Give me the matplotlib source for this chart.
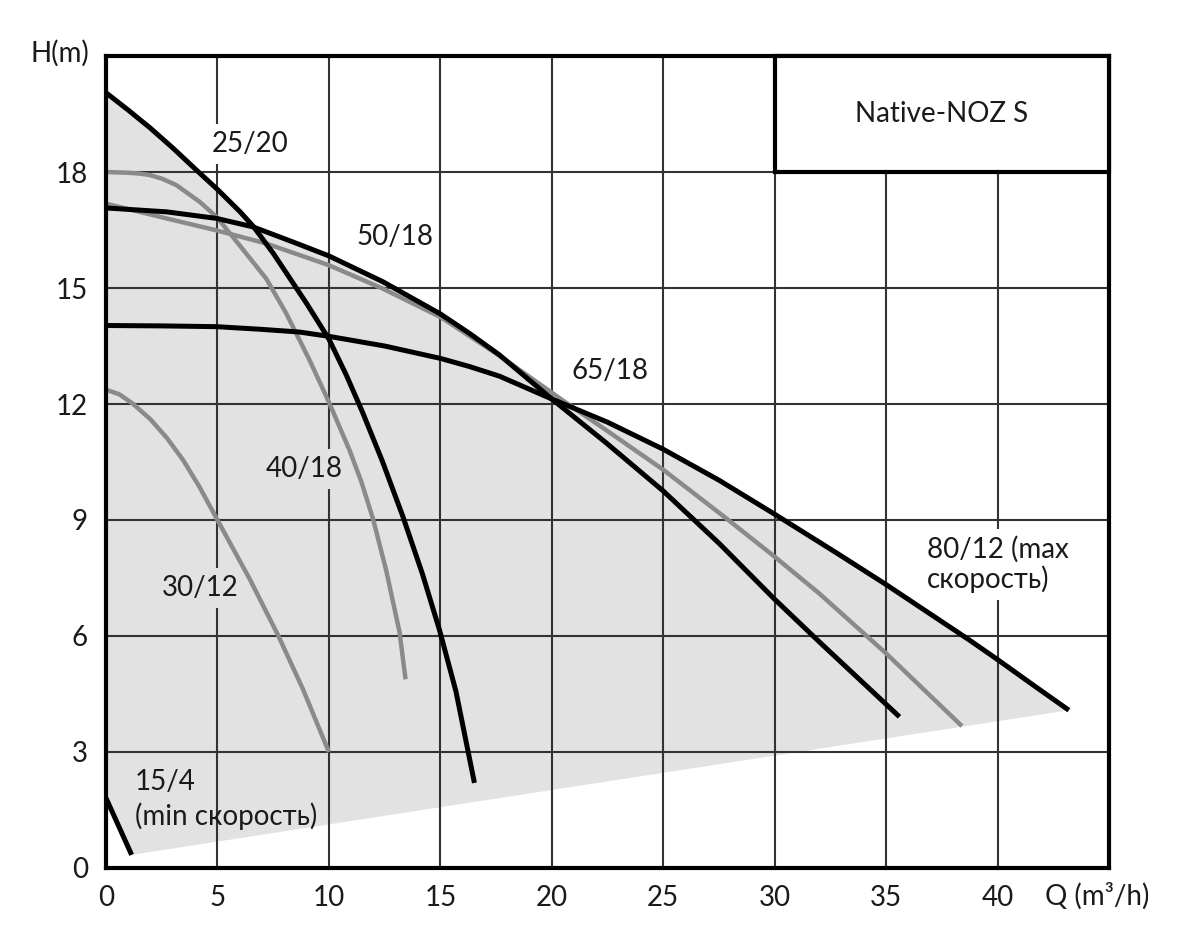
import numpy as np
import matplotlib
matplotlib.use("Agg")
import matplotlib.pyplot as plt
from matplotlib.patches import Rectangle

plt.rcParams['font.family'] = ['Lato', 'DejaVu Sans']

# pump curves, Q (m3/h) vs H (m)
q_25_20 = [0, 1, 2, 3, 4.15, 5, 6, 6.6, 7.5, 8.1, 9, 10, 10.78, 11.5, 12.4, 13.32, 14.2, 14.96, 15.7, 16.53]
h_25_20 = [20.05, 19.6, 19.13, 18.62, 18.0, 17.55, 16.98, 16.6, 15.9, 15.38, 14.6, 13.68, 12.75, 11.8, 10.52, 9.09, 7.6, 6.16, 4.57, 2.2]

q_40_18 = [0, 1, 1.5, 1.97, 2.5, 3.16, 4.2, 4.96, 6.0, 7.19, 8.08, 9.12, 10.0, 10.93, 11.45, 11.97, 12.57, 13.17, 13.44]
h_40_18 = [18.0, 17.98, 17.96, 17.92, 17.83, 17.66, 17.23, 16.84, 16.1, 15.24, 14.35, 13.15, 12.05, 10.8, 10.0, 9.05, 7.7, 6.1, 4.88]

q_30_12 = [0, 0.6, 1.22, 2.0, 2.72, 3.46, 4.2, 5.0, 6.45, 7.72, 8.84, 10.0]
h_30_12 = [12.37, 12.25, 12.0, 11.6, 11.13, 10.55, 9.85, 9.0, 7.47, 6.02, 4.62, 3.0]

q_50_18 = [0, 2.71, 4.96, 6.6, 8.39, 10, 12.43, 15, 16.3, 17.65, 20, 22.43, 25, 27.5, 30, 32, 35.6]
h_50_18 = [17.07, 16.97, 16.8, 16.58, 16.19, 15.83, 15.16, 14.33, 13.83, 13.27, 12.13, 11.0, 9.75, 8.4, 6.95, 5.85, 3.91]

q_65_18 = [0, 2.71, 4.96, 7.19, 10, 12.43, 15, 17.65, 20.6, 22.5, 25, 27.7, 30, 32, 35, 38.4]
h_65_18 = [17.18, 16.8, 16.49, 16.15, 15.59, 14.98, 14.25, 13.25, 12.05, 11.3, 10.3, 9.1, 8.05, 7.1, 5.55, 3.67]

q_80_12 = [0, 2.5, 4.96, 7, 8.69, 10, 12.5, 15, 16.3, 17.65, 20, 22.5, 25, 27.5, 30, 32.8, 35, 38.7, 40, 41.7, 43.2]
h_80_12 = [14.03, 14.02, 14.0, 13.93, 13.86, 13.75, 13.5, 13.18, 12.97, 12.72, 12.13, 11.53, 10.83, 10.03, 9.15, 8.14, 7.33, 5.91, 5.39, 4.69, 4.08]

q_15_4 = [0, 1.15]
h_15_4 = [1.81, 0.34]

x_ticks = [0, 5, 10, 15, 20, 25, 30, 35, 40]
y_ticks = [0, 3, 6, 9, 12, 15, 18]

BLACK = '#000000'
GREY = '#8a8a8a'
FILL = '#e2e2e2'
TXT = '#1a1a1a'

fig = plt.figure(figsize=(11.91, 9.46), dpi=100)
ax = fig.add_axes([106 / 1191, 1 - 868 / 946, (1109 - 106) / 1191, (868 - 56) / 946])

# shaded working area: upper envelope of the curves, lower edge between the curve ends
q_a, h_a = np.array(q_25_20), np.array(h_25_20)
q_b, h_b = np.array(q_50_18), np.array(h_50_18)
q_c, h_c = np.array(q_80_12), np.array(h_80_12)
poly_q = np.concatenate([q_a[q_a < 6.6], q_b[(q_b >= 6.6) & (q_b <= 20)], q_c[q_c > 20], [q_15_4[1], q_15_4[0]]])
poly_h = np.concatenate([h_a[q_a < 6.6], h_b[(q_b >= 6.6) & (q_b <= 20)], h_c[q_c > 20], [h_15_4[1], h_15_4[0]]])
ax.fill(poly_q, poly_h, color=FILL, lw=0, zorder=0.1)

ax.set_axisbelow(True)
ax.grid(True, color='#333333', lw=1.5)

for q, h, c, w in [(q_30_12, h_30_12, GREY, 3.2), (q_40_18, h_40_18, GREY, 3.2),
                   (q_65_18, h_65_18, GREY, 3.2), (q_25_20, h_25_20, BLACK, 3.6),
                   (q_50_18, h_50_18, BLACK, 3.6), (q_80_12, h_80_12, BLACK, 3.6),
                   (q_15_4, h_15_4, BLACK, 3.6)]:
    ax.plot(q, h, color=c, lw=w, solid_capstyle='butt', solid_joinstyle='round', zorder=2)

fs = 20
def label(x, y, s, bg=None, **kw):
    bb = dict(boxstyle='square,pad=0.25', fc=bg, ec='none') if bg else None
    ax.text(x, y, s, fontsize=fs, color=TXT, ha='left', va='center', bbox=bb, zorder=1, **kw)

label(4.75, 18.73, '25/20', 'white')
label(11.25, 16.32, '50/18')
label(20.9, 12.85, '65/18')
label(7.17, 10.31, '40/18', FILL)
label(2.5, 7.24, '30/12', FILL)
label(1.3, 2.23, '15/4', FILL)
label(1.3, 1.33, '(min скорость)')
label(36.83, 7.85, '80/12 (max\nскорость)', 'white', linespacing=1.15)

ax.add_patch(Rectangle((30, 18), 15, 3, fc='white', ec=BLACK, lw=3, zorder=3, clip_on=False))
ax.text(37.5, 19.5, 'Native-NOZ S', fontsize=fs, color=TXT, ha='center', va='center', zorder=4)

ax.set_xlim(0, 45)
ax.set_ylim(0, 21)
ax.set_xticks(x_ticks)
ax.set_yticks(y_ticks)
ax.tick_params(length=0, labelsize=fs, labelcolor=TXT)
ax.tick_params(axis='x', pad=12)
ax.tick_params(axis='y', pad=13)
for sp in ax.spines.values():
    sp.set_linewidth(3)
    sp.set_color(BLACK)

fig.text(89 / 1191, 1 - 53 / 946, 'H(m)', fontsize=fs, color=TXT, ha='right', va='center')
fig.text(1045 / 1191, 1 - 896 / 946, 'Q (m³/h)', fontsize=fs, color=TXT, ha='left', va='center')

fig.savefig('out.png', dpi=100)
